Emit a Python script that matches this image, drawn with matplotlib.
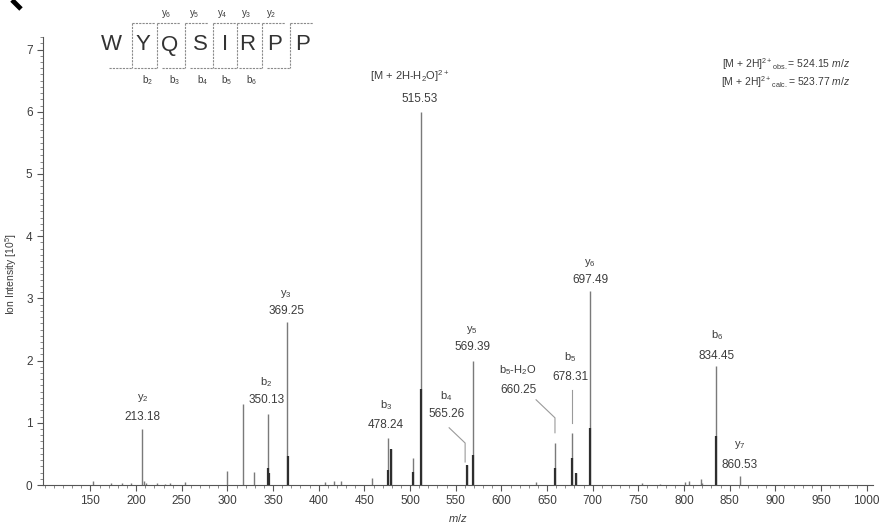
"""
Espectro MS/MS del péptido WYQSIRPP
"""

import matplotlib.pyplot as plt
from matplotlib.ticker import MultipleLocator

plt.rcParams['font.family'] = ['Liberation Sans', 'DejaVu Sans']
plt.rcParams['mathtext.fontset'] = 'custom'
plt.rcParams['mathtext.rm'] = 'Liberation Sans'
plt.rcParams['mathtext.it'] = 'Liberation Sans:italic'
plt.rcParams['mathtext.bf'] = 'Liberation Sans:bold'

# espectro completo (líneas claras)
mz_all = [152.5, 173, 184, 194, 206.5, 208.5, 211, 223, 232, 237.5, 254,
          299.6, 317, 328.7, 344.7, 365.1, 406.3, 416.2, 424, 458, 475.3, 479.3,
          503, 511.8, 562.8, 568.7, 637.6, 659, 677.7, 681.4, 697, 754.3, 773.6,
          801, 805.4, 818.2, 820, 835.6, 861.1]
int_all = [0.06, 0.03, 0.03, 0.03, 0.90, 0.07, 0.04, 0.03, 0.02, 0.03, 0.05,
           0.23, 1.30, 0.21, 1.14, 2.62, 0.05, 0.07, 0.06, 0.11, 0.75, 0.58,
           0.43, 6.00, 0.32, 2.00, 0.05, 0.675, 0.83, 0.19, 3.12, 0.04, 0.02,
           0.05, 0.06, 0.10, 0.04, 1.91, 0.14]

# parte oscura de los picos
mz_dark = [344.7, 346, 366.6, 475.3, 479.3, 503, 511.8, 562.8, 568.7, 659,
           677.7, 681.4, 697, 835.6]
int_dark = [0.27, 0.20, 0.46, 0.24, 0.58, 0.21, 1.55, 0.32, 0.48, 0.27,
            0.43, 0.19, 0.91, 0.78]

# etiquetas de iones: nombre, valor, posición (m/z, intensidad) de nombre y valor
ion_names = ['y$_2$', 'b$_2$', 'y$_3$', 'b$_3$', '[M + 2H-H$_2$O]$^{2+}$', 'b$_4$',
             'y$_5$', 'b$_5$-H$_2$O', 'b$_5$', 'y$_6$', 'b$_6$', 'y$_7$']
ion_values = ['213.18', '350.13', '369.25', '478.24', '515.53', '565.26',
              '569.39', '660.25', '678.31', '697.49', '834.45', '860.53']
name_x = [206.9, 342.6, 364.4, 473.9, 500.1, 539.5, 567.9, 618.3, 675.2, 697.0, 836.0, 861.2]
name_y = [1.40, 1.66, 3.07, 1.29, 6.58, 1.43, 2.49, 1.85, 2.06, 3.57, 2.41, 0.64]
value_x = [206.9, 342.6, 364.4, 473.9, 511.0, 539.5, 567.9, 618.3, 675.2, 697.0, 836.0, 861.2]
value_y = [1.09, 1.37, 2.80, 0.96, 6.21, 1.14, 2.22, 1.53, 1.74, 3.30, 2.07, 0.32]

# secuencia y fragmentos
sequence = ['W', 'Y', 'Q', 'S', 'I', 'R', 'P', 'P']
b_labels = ['', 'b$_2$', 'b$_3$', 'b$_4$', 'b$_5$', 'b$_6$', '']
y_labels = ['', 'y$_6$', 'y$_5$', 'y$_4$', 'y$_3$', 'y$_2$', '']

text_color = '#3c3c3c'

fig = plt.figure(figsize=(8.85, 5.28), dpi=100)
W, H = 885, 528

# ejes principales (en píxeles: izq 43, der 873, y=0 en 485)
ax = fig.add_axes([43 / W, (H - 485) / H, 830 / W, 7.2 * 62.2 / H])
ax.vlines(mz_all, 0, int_all, color='#7a7a7a', linewidth=1.0)
ax.vlines(mz_dark, 0, int_dark, color='#2e2e2e', linewidth=1.6)

ax.set_xlim(98, 1007)
ax.set_ylim(0, 7.2)
ax.xaxis.set_minor_locator(MultipleLocator(10))
ax.yaxis.set_major_locator(MultipleLocator(1))
ax.yaxis.set_minor_locator(MultipleLocator(0.1))
ax.set_xticks(range(150, 1001, 50))
ax.tick_params(which='major', length=4, width=0.8, color='#555555',
               labelsize=8.5, labelcolor=text_color)
ax.tick_params(which='minor', length=2, width=0.6, color='#777777')
for s in ['top', 'right']:
    ax.spines[s].set_visible(False)
for s in ['left', 'bottom']:
    ax.spines[s].set_color('#555555')
    ax.spines[s].set_linewidth(0.8)

ax.set_xlabel('$\\it{m/z}$', fontsize=8, color=text_color)
ax.xaxis.set_label_coords(0.5, -0.060)
ax.set_ylabel('Ion Intensity [10$^5$]', fontsize=7.5, color=text_color)
ax.yaxis.set_label_coords(-0.029, 0.47)

# etiquetas de los picos
for name, val, nx, ny, vx, vy in zip(ion_names, ion_values, name_x, name_y, value_x, value_y):
    ax.text(nx, ny, name, ha='center', va='center', fontsize=8, color=text_color)
    ax.text(vx, vy, val, ha='center', va='center', fontsize=8.5, color=text_color)

# líneas guía
ax.plot([542.8, 560.3, 560.3], [0.92, 0.675, 0.37], color='#9a9a9a', linewidth=0.8)
ax.plot([638.0, 658.7, 658.7], [1.37, 1.08, 0.84], color='#9a9a9a', linewidth=0.8)
ax.plot([677.7, 677.7], [1.53, 1.00], color='#9a9a9a', linewidth=0.8)

# capa superior en píxeles para la secuencia y los textos de precursor
ov = fig.add_axes([0, 0, 1, 1], zorder=5)
ov.set_xlim(0, W)
ov.set_ylim(H, 0)
ov.axis('off')

letter_x = [111.7, 143.3, 170, 200, 225, 246.7, 275, 303]
cut_x = [131.7, 157, 185, 213, 237, 262, 290]
for letter, lx in zip(sequence, letter_x):
    ov.text(lx, 45, letter, ha='center', va='center', fontsize=16, color='#333333')
for i, cx in enumerate(cut_x):
    ov.plot([cx, cx], [22.5, 68], color='#8a8a8a', linewidth=0.8, linestyle=(0, (2, 1)))
    ov.plot([cx, cx + 23], [22.5, 22.5], color='#8a8a8a', linewidth=0.8, linestyle=(0, (2, 1)))
    ov.plot([cx - 23, cx], [68, 68], color='#8a8a8a', linewidth=0.8, linestyle=(0, (2, 1)))
    if y_labels[i]:
        ov.text(cx + 9, 14, y_labels[i], ha='center', va='center', fontsize=7, color=text_color)
    if b_labels[i]:
        ov.text(cx - 10, 80, b_labels[i], ha='center', va='center', fontsize=7, color=text_color)

ov.text(850, 64, '[M + 2H]$^{2+}$$_{\\rm obs.}$= 524.15 $\\it{m/z}$', ha='right', va='center',
        fontsize=7.5, color=text_color)
ov.text(850, 82, '[M + 2H]$^{2+}$$_{\\rm calc.}$= 523.77 $\\it{m/z}$', ha='right', va='center',
        fontsize=7.5, color=text_color)

# resto de la letra del panel
ov.plot([12, 21], [0, 9], color='black', linewidth=3.5, solid_capstyle='butt')

fig.savefig('out.png', dpi=100)
